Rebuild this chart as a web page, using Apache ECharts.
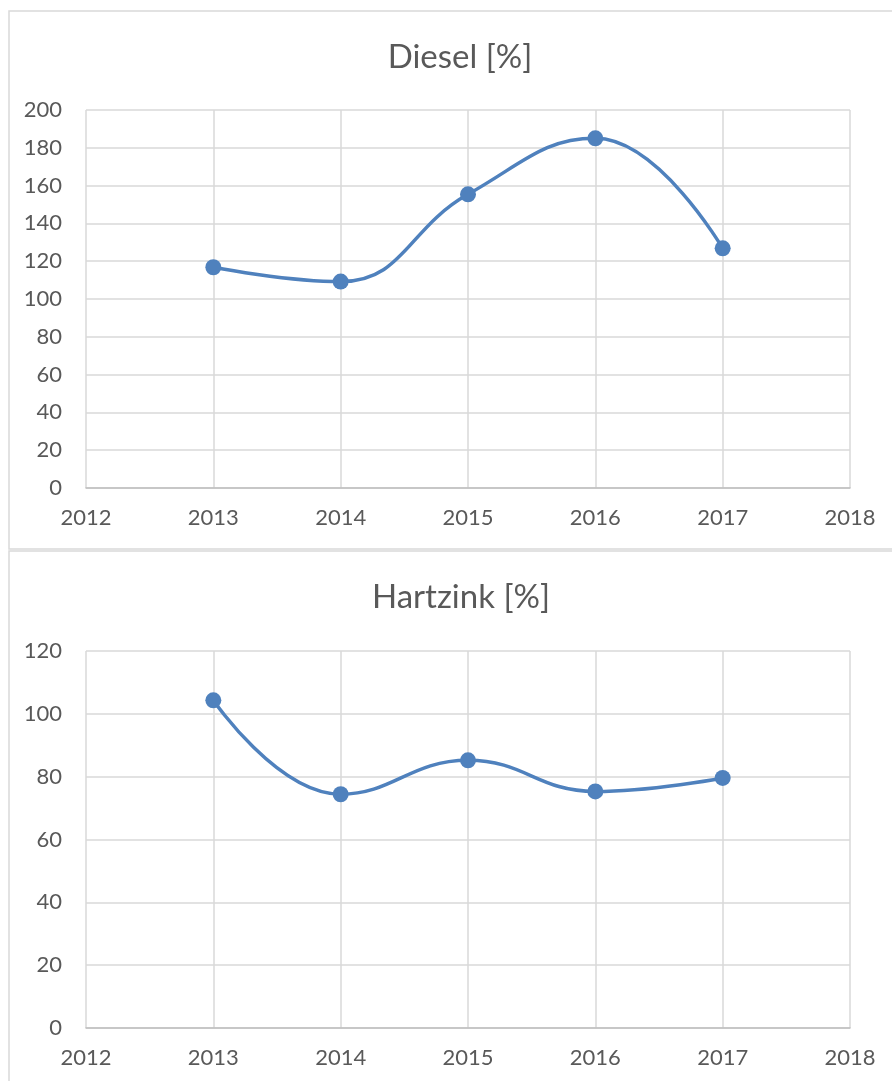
<!DOCTYPE html>
<html>
<head>
<meta charset="utf-8">
<title>Diesel / Hartzink</title>
<script src="https://cdn.jsdelivr.net/npm/echarts@6/dist/echarts.min.js"></script>
<style>
  html, body { margin: 0; padding: 0; background: #fff; }
  #chart { width: 892px; height: 1081px; }
</style>
</head>
<body>
<div id="chart"></div>
<script>
// Jahre (x-Werte der Punkte)
var years = [2013, 2014, 2015, 2016, 2017]
// Diesel [%]
var dieselValues = [116.8, 109.2, 155.4, 185.0, 126.8]
// Hartzink [%]
var hartzinkValues = [104.3, 74.4, 85.2, 75.3, 79.6]
// Achsenbereiche
var xRange = [2012, 2018]
var dieselRange = [0, 200, 20]
var hartzinkRange = [0, 120, 20]

var textColor = '#595959'
var gridColor = '#d9d9d9'
var lineColor = '#4f81bd'
var font = 'Lato'

function toPairs(ys) {
  return years.map(function (y, i) { return [y, ys[i]] })
}

function xAxisFor(idx) {
  return {
    type: 'value',
    gridIndex: idx,
    min: xRange[0],
    max: xRange[1],
    interval: 1,
    axisLine: { show: true, lineStyle: { color: '#bfbfbf', width: 1.5 } },
    axisTick: { show: false },
    splitLine: { show: true, lineStyle: { color: gridColor, width: 1.5 } },
    axisLabel: {
      color: textColor, fontFamily: font, fontSize: 22, margin: 19,
      formatter: function (v) { return String(v) } // keine Tausendertrennzeichen
    }
  }
}

function yAxisFor(idx, range) {
  return {
    type: 'value',
    gridIndex: idx,
    min: range[0],
    max: range[1],
    interval: range[2],
    axisLine: { show: false },
    axisTick: { show: false },
    splitLine: { show: true, lineStyle: { color: gridColor, width: 1.5 } },
    axisLabel: { color: textColor, fontFamily: font, fontSize: 22, margin: 24 }
  }
}

function seriesFor(idx, name, ys) {
  return {
    name: name,
    type: 'line',
    xAxisIndex: idx,
    yAxisIndex: idx,
    data: toPairs(ys),
    smooth: 0.45,
    symbol: 'circle',
    symbolSize: 16,
    itemStyle: { color: lineColor },
    lineStyle: { color: lineColor, width: 3.5 },
    animation: false
  }
}

var chart = echarts.init(document.getElementById('chart'))
chart.setOption({
  backgroundColor: '#fff',
  title: [
    {
      text: 'Diesel [%]', left: 455, top: 36, textAlign: 'center',
      textStyle: { color: textColor, fontFamily: font, fontSize: 33, fontWeight: 'normal' }
    },
    {
      text: 'Hartzink [%]', left: 456, top: 576, textAlign: 'center',
      textStyle: { color: textColor, fontFamily: font, fontSize: 33, fontWeight: 'normal' }
    }
  ],
  // Rahmen der beiden Diagrammflächen
  graphic: [
    { type: 'rect', shape: { x: 9, y: 11, width: 900, height: 538 }, style: { fill: null, stroke: gridColor, lineWidth: 1.5 }, silent: true },
    { type: 'rect', shape: { x: 9, y: 551, width: 900, height: 540 }, style: { fill: null, stroke: gridColor, lineWidth: 1.5 }, silent: true }
  ],
  grid: [
    { left: 86, top: 110, width: 764, height: 378 },
    { left: 86, top: 651, width: 764, height: 377 }
  ],
  xAxis: [xAxisFor(0), xAxisFor(1)],
  yAxis: [yAxisFor(0, dieselRange), yAxisFor(1, hartzinkRange)],
  series: [
    seriesFor(0, 'Diesel', dieselValues),
    seriesFor(1, 'Hartzink', hartzinkValues)
  ]
})
</script>
</body>
</html>
